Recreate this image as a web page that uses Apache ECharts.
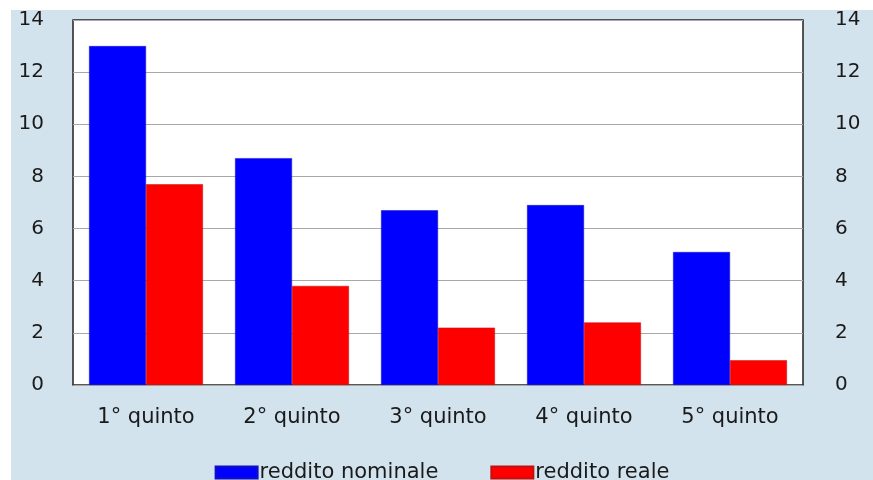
<!DOCTYPE html>
<html>
<head>
<meta charset="utf-8">
<script src="https://cdn.jsdelivr.net/npm/echarts@6/dist/echarts.min.js"></script>
<style>
  html, body { margin: 0; padding: 0; background: #ffffff; }
  #chart { position: absolute; left: 11px; top: 10px; width: 862px; height: 470px; background: #d3e3ed; }
</style>
</head>
<body>
<div id="chart"></div>
<script>
const categories = ['1° quinto', '2° quinto', '3° quinto', '4° quinto', '5° quinto'];
const nominale = [13.0, 8.7, 6.7, 6.9, 5.1];
const reale = [7.7, 3.8, 2.2, 2.4, 0.95];
const seriesNames = ['reddito nominale', 'reddito reale'];

const FONT = 'DejaVu Sans';
const chart = echarts.init(document.getElementById('chart'), null, { renderer: 'canvas' });
const yAxisBase = {
  type: 'value', min: 0, max: 14, interval: 2,
  axisLine: { show: false }, axisTick: { show: false },
  axisLabel: { color: '#1a1a1a', fontSize: 20, fontFamily: FONT }
};
chart.setOption({
  animation: false,
  backgroundColor: '#d3e3ed',
  grid: {
    left: 62, right: 70, top: 10, bottom: 95,
    show: true, backgroundColor: '#ffffff', borderColor: '#222222', borderWidth: 1.5
  },
  legend: {
    top: 447, left: 'center',
    itemWidth: 42, itemHeight: 12, itemGap: 52,
    icon: 'rect',
    textStyle: { color: '#1a1a1a', fontSize: 21, fontFamily: FONT, padding: [0, 0, 0, -3] },
    data: seriesNames
  },
  xAxis: {
    type: 'category', data: categories,
    axisLine: { show: false }, axisTick: { show: false },
    axisLabel: { color: '#1a1a1a', fontSize: 21, fontFamily: FONT, margin: 22 }
  },
  yAxis: [
    Object.assign({}, yAxisBase, {
      position: 'left',
      axisLabel: Object.assign({}, yAxisBase.axisLabel, { margin: 29 }),
      splitLine: { show: true, lineStyle: { color: '#a8a8a8', width: 1 } }
    }),
    Object.assign({}, yAxisBase, {
      position: 'right',
      axisLabel: Object.assign({}, yAxisBase.axisLabel, { margin: 32 }),
      splitLine: { show: false }
    })
  ],
  series: [
    {
      name: seriesNames[0], type: 'bar', data: nominale, yAxisIndex: 0,
      barGap: '0%', barCategoryGap: '22%',
      itemStyle: { color: '#0000ff', borderColor: '#1010c0', borderWidth: 0.5 }
    },
    {
      name: seriesNames[1], type: 'bar', data: reale, yAxisIndex: 0,
      barGap: '0%', barCategoryGap: '22%',
      itemStyle: { color: '#ff0000', borderColor: '#c01010', borderWidth: 0.5 }
    }
  ]
});
</script>
</body>
</html>
